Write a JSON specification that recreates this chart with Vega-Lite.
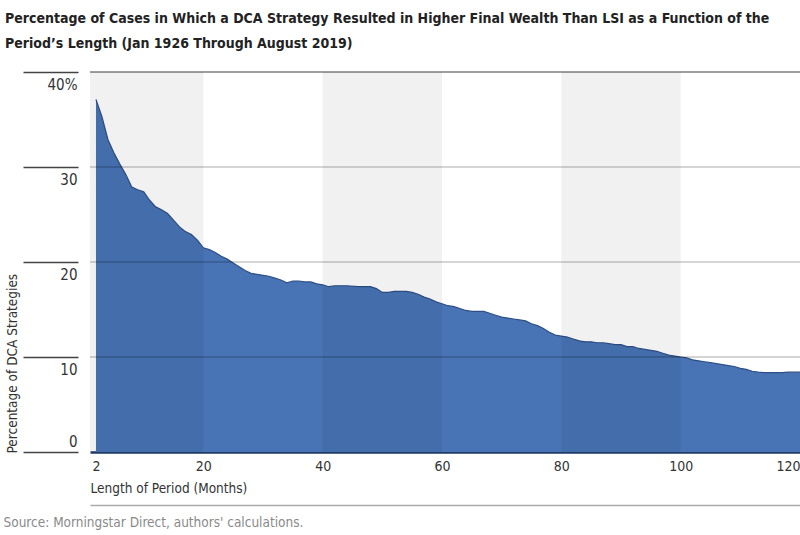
{
  "$schema": "https://vega.github.io/schema/vega-lite/v6.json",
  "autosize": "none",
  "padding": {"left": 90, "top": 72, "right": 0, "bottom": 83},
  "width": 710,
  "height": 380,
  "background": "white",
  "config": {"view": {"stroke": null}, "font": "DejaVu Sans Condensed, sans-serif"},
  "title": {
    "text": ["Percentage of Cases in Which a DCA Strategy Resulted in Higher Final Wealth Than LSI as a Function of the", "Period’s Length (Jan 1926 Through August 2019)"],
    "anchor": "start",
    "frame": "group",
    "dx": -85,
    "offset": 20,
    "font": "DejaVu Sans Condensed, sans-serif",
    "fontSize": 14,
    "fontWeight": "bold",
    "color": "#222222",
    "lineHeight": 25
  },
  "datasets": {
    "series": [
      {"month": 2, "pct": 37.1}, {"month": 3, "pct": 35.3}, {"month": 4, "pct": 32.9}, {"month": 5, "pct": 31.5},
      {"month": 6, "pct": 30.3}, {"month": 7, "pct": 29.2}, {"month": 8, "pct": 27.9}, {"month": 9, "pct": 27.6},
      {"month": 10, "pct": 27.4}, {"month": 11, "pct": 26.5}, {"month": 12, "pct": 25.8}, {"month": 13, "pct": 25.5},
      {"month": 14, "pct": 25.1}, {"month": 15, "pct": 24.4}, {"month": 16, "pct": 23.7}, {"month": 17, "pct": 23.2},
      {"month": 18, "pct": 22.9}, {"month": 19, "pct": 22.3}, {"month": 20, "pct": 21.5}, {"month": 21, "pct": 21.3},
      {"month": 22, "pct": 21.0}, {"month": 23, "pct": 20.6}, {"month": 24, "pct": 20.3}, {"month": 25, "pct": 19.9},
      {"month": 26, "pct": 19.5}, {"month": 27, "pct": 19.1}, {"month": 28, "pct": 18.8}, {"month": 29, "pct": 18.7},
      {"month": 30, "pct": 18.6}, {"month": 31, "pct": 18.5}, {"month": 32, "pct": 18.3}, {"month": 33, "pct": 18.1},
      {"month": 34, "pct": 17.8}, {"month": 35, "pct": 18.0}, {"month": 36, "pct": 18.0}, {"month": 37, "pct": 17.9},
      {"month": 38, "pct": 17.9}, {"month": 39, "pct": 17.7}, {"month": 40, "pct": 17.6}, {"month": 41, "pct": 17.4},
      {"month": 42, "pct": 17.5}, {"month": 43, "pct": 17.5}, {"month": 44, "pct": 17.5}, {"month": 46, "pct": 17.4},
      {"month": 48, "pct": 17.4}, {"month": 49, "pct": 17.2}, {"month": 50, "pct": 16.8}, {"month": 51, "pct": 16.8},
      {"month": 52, "pct": 16.9}, {"month": 54, "pct": 16.9}, {"month": 55, "pct": 16.8}, {"month": 56, "pct": 16.6},
      {"month": 57, "pct": 16.3}, {"month": 58, "pct": 16.1}, {"month": 59, "pct": 15.8}, {"month": 60, "pct": 15.6},
      {"month": 61, "pct": 15.4}, {"month": 62, "pct": 15.3}, {"month": 63, "pct": 15.1}, {"month": 64, "pct": 14.9},
      {"month": 65, "pct": 14.8}, {"month": 66, "pct": 14.8}, {"month": 67, "pct": 14.8}, {"month": 68, "pct": 14.6},
      {"month": 69, "pct": 14.4}, {"month": 70, "pct": 14.2}, {"month": 71, "pct": 14.1}, {"month": 72, "pct": 14.0},
      {"month": 73, "pct": 13.9}, {"month": 74, "pct": 13.8}, {"month": 75, "pct": 13.5}, {"month": 76, "pct": 13.3},
      {"month": 77, "pct": 13.0}, {"month": 78, "pct": 12.6}, {"month": 79, "pct": 12.3}, {"month": 80, "pct": 12.2},
      {"month": 81, "pct": 12.1}, {"month": 82, "pct": 11.9}, {"month": 83, "pct": 11.7}, {"month": 84, "pct": 11.6},
      {"month": 85, "pct": 11.6}, {"month": 86, "pct": 11.5}, {"month": 87, "pct": 11.5}, {"month": 88, "pct": 11.4},
      {"month": 89, "pct": 11.3}, {"month": 90, "pct": 11.3}, {"month": 91, "pct": 11.1}, {"month": 92, "pct": 11.1},
      {"month": 93, "pct": 10.9}, {"month": 94, "pct": 10.8}, {"month": 95, "pct": 10.7}, {"month": 96, "pct": 10.6},
      {"month": 97, "pct": 10.4}, {"month": 98, "pct": 10.2}, {"month": 99, "pct": 10.1}, {"month": 100, "pct": 10.0},
      {"month": 101, "pct": 9.9}, {"month": 102, "pct": 9.7}, {"month": 103, "pct": 9.6}, {"month": 104, "pct": 9.5},
      {"month": 105, "pct": 9.4}, {"month": 106, "pct": 9.3}, {"month": 107, "pct": 9.2}, {"month": 108, "pct": 9.1},
      {"month": 109, "pct": 9.0}, {"month": 110, "pct": 8.8}, {"month": 111, "pct": 8.7}, {"month": 112, "pct": 8.5},
      {"month": 113, "pct": 8.4}, {"month": 114, "pct": 8.35}, {"month": 115, "pct": 8.35}, {"month": 116, "pct": 8.35},
      {"month": 117, "pct": 8.35}, {"month": 118, "pct": 8.4}, {"month": 119, "pct": 8.4}, {"month": 120, "pct": 8.4}
    ],
    "bands": [
      {"start": 1, "end": 20}, {"start": 40, "end": 60}, {"start": 80, "end": 100}
    ],
    "grid": [
      {"v": 10}, {"v": 20}, {"v": 30}, {"v": 40}
    ]
  },
  "resolve": {"axis": {"x": "independent"}},
  "layer": [
    {
      "data": {"name": "series"},
      "mark": {"type": "area", "color": "#4874b5", "opacity": 1, "line": {"color": "#2d4f85", "strokeWidth": 1.2}},
      "encoding": {
        "x": {
          "field": "month", "type": "quantitative",
          "scale": {"domain": [1, 120], "nice": false, "zero": false},
          "axis": {
            "orient": "bottom",
            "values": [2, 20, 40, 60, 80, 100, 120],
            "grid": false, "ticks": false,
            "domain": true, "domainColor": "#1f3a66", "domainWidth": 2.5,
            "labelFontSize": 14, "labelColor": "#333333", "labelPadding": 7,
            "labelFlush": false,
            "labelAlign": {"condition": {"test": "datum.value == 120", "value": "right"}, "value": "center"},
            "title": "Length of Period (Months)",
            "titleFontSize": 13.5, "titleFontWeight": "normal", "titleColor": "#333333",
            "titleAnchor": "start", "titleAlign": "left", "titleX": 0, "titleY": 40,
            "titleBaseline": "alphabetic"
          }
        },
        "y": {
          "field": "pct", "type": "quantitative",
          "scale": {"domain": [0, 40], "nice": false},
          "axis": {
            "orient": "left",
            "values": [0, 10, 20, 30, 40],
            "grid": false, "domain": false,
            "offset": 12,
            "ticks": true, "tickSize": 55, "tickColor": "#444444", "tickWidth": 1.5,
            "labelExpr": "datum.value == 40 ? '40%' : datum.label",
            "labelPadding": -54, "labelAlign": "right",
            "labelBaseline": {"condition": {"test": "datum.value == 0", "value": "bottom"}, "value": "top"},
            "labelOffset": {"condition": {"test": "datum.value == 0", "value": -3}, "value": 5},
            "labelFontSize": 15, "labelColor": "#333333",
            "title": "Percentage of  DCA Strategies",
            "titleFontSize": 13.5, "titleFontWeight": "normal", "titleColor": "#333333",
            "titleAngle": -90, "titleAlign": "left", "titleBaseline": "middle",
            "titleX": -66, "titleY": 381
          }
        }
      }
    },
    {
      "data": {"name": "bands"},
      "mark": {"type": "rect", "color": "#000010", "opacity": 0.055},
      "encoding": {
        "x": {
          "field": "start", "type": "quantitative",
          "axis": {
            "orient": "bottom",
            "offset": 53,
            "labels": false, "ticks": false, "grid": false,
            "domain": true, "domainColor": "#aaaaaa", "domainWidth": 1.5,
            "title": "Source: Morningstar Direct, authors' calculations.",
            "titleFontSize": 13.5, "titleFontWeight": "normal", "titleColor": "#8a8a8a",
            "titleAnchor": "start", "titleAlign": "left", "titleX": -87, "titleY": 21,
            "titleBaseline": "alphabetic"
          }
        },
        "x2": {"field": "end"}
      }
    },
    {
      "data": {"name": "grid"},
      "mark": {"type": "rule", "color": "#000000", "strokeWidth": 1.5},
      "encoding": {
        "y": {
          "field": "v", "type": "quantitative",
          "axis": {
            "orient": "left",
            "values": [0, 10, 20, 30, 40],
            "grid": false, "domain": false,
            "offset": 12,
            "ticks": true, "tickSize": 55, "tickColor": "#444444", "tickWidth": 1.5,
            "labelExpr": "datum.value == 40 ? '40%' : datum.label",
            "labelPadding": -54, "labelAlign": "right",
            "labelBaseline": {"condition": {"test": "datum.value == 0", "value": "bottom"}, "value": "top"},
            "labelOffset": {"condition": {"test": "datum.value == 0", "value": -3}, "value": 5},
            "labelFontSize": 15, "labelColor": "#333333",
            "title": "Percentage of  DCA Strategies",
            "titleFontSize": 13.5, "titleFontWeight": "normal", "titleColor": "#333333",
            "titleAngle": -90, "titleAlign": "left", "titleBaseline": "middle",
            "titleX": -66, "titleY": 381
          }
        },
        "opacity": {"condition": {"test": "datum.v == 40", "value": 0.5}, "value": 0.22}
      }
    }
  ]
}
